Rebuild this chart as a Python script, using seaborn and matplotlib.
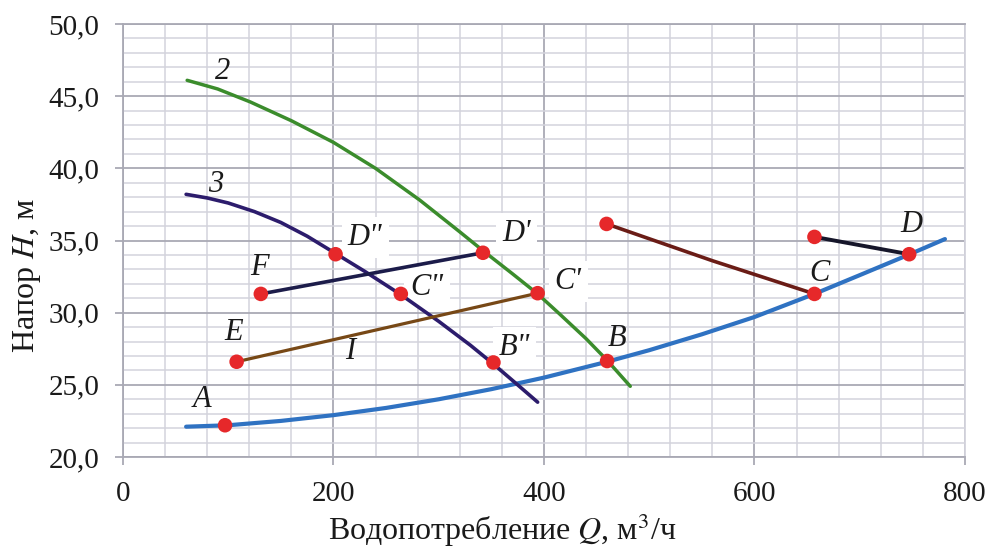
import matplotlib
matplotlib.use("Agg")
import matplotlib.pyplot as plt
from matplotlib.ticker import MultipleLocator, FuncFormatter
import seaborn as sns
import pandas as pd

# System characteristic (blue)
q_sys = [60, 100, 150, 200, 250, 300, 350, 400, 460, 500, 550, 600, 657, 700, 746, 781]
h_sys = [22.1, 22.2, 22.5, 22.9, 23.4, 24.0, 24.7, 25.5, 26.6, 27.4, 28.5, 29.7, 31.3, 32.6, 34.0, 35.1]

# Pump curve 2 (green)
q_p2 = [61, 90, 121, 160, 200, 240, 282, 320, 342, 370, 394, 415, 440, 460, 482]
h_p2 = [46.1, 45.5, 44.6, 43.3, 41.8, 40.0, 37.8, 35.6, 34.3, 32.7, 31.3, 29.9, 28.2, 26.7, 24.9]

# Pump curve 3 (purple)
q_p3 = [60, 80, 100, 125, 150, 175, 202, 230, 264, 300, 330, 351, 375, 394]
h_p3 = [38.2, 37.95, 37.6, 37.0, 36.25, 35.3, 34.1, 32.85, 31.25, 29.4, 27.75, 26.5, 25.0, 23.8]

# Segment I: E -> C'
q_e = [108, 394]
h_e = [26.6, 31.35]

# Segment F -> D'
q_f = [131, 342]
h_f = [31.3, 34.15]

# Upper-right segment to C
q_c = [459.5, 560, 657]
h_c = [36.15, 33.6, 31.3]

# Segment to D
q_d = [657, 747]
h_d = [35.25, 34.05]

# Marked points
pt_q = [97, 460, 657, 747, 108, 131, 342, 394, 202, 264, 352, 459.5, 657]
pt_h = [22.2, 26.65, 31.3, 34.05, 26.6, 31.3, 34.15, 31.35, 34.05, 31.3, 26.55, 36.15, 35.25]

# Point / curve labels
lab_text = ["A", "B", "C", "D", "E", "F", "I", "2", "3",
            'D"', "D'", 'C"', "C'", 'B"']
lab_q = [75, 469, 662, 749, 105, 130, 216, 95, 88, 230, 374, 289, 423, 372]
lab_h = [24.0, 28.2, 32.7, 36.1, 28.6, 33.1, 27.3, 46.7, 38.85, 35.2, 35.5, 31.75, 32.15, 27.6]
lab_boxed = [False] * 9 + [True] * 5

x_ticks_major = 200
x_ticks_minor = 40
y_ticks_major = 5
y_ticks_minor = 1

sns.set_theme(style="white")
plt.rcParams["font.family"] = ["Liberation Serif", "DejaVu Serif"]
plt.rcParams["mathtext.fontset"] = "stix"

fig = plt.figure(figsize=(9.9, 5.51), dpi=100)
ax = fig.add_axes([0.1242, 0.1706, 0.8505, 0.7858])

major_c = "#a9a9b4"
minor_c = "#d3d3dc"

def draw(q, h, color, lw):
    df = pd.DataFrame({"Q": q, "H": h})
    sns.lineplot(data=df, x="Q", y="H", color=color, linewidth=lw,
                 sort=False, estimator=None, ax=ax, zorder=3,
                 solid_capstyle="round", solid_joinstyle="round")

draw(q_sys, h_sys, "#2f72c2", 3.0)
draw(q_p2, h_p2, "#3b8c2c", 2.5)
draw(q_p3, h_p3, "#2c1c6c", 2.6)
draw(q_e, h_e, "#774816", 2.3)
draw(q_f, h_f, "#1c1c4a", 2.6)
draw(q_c, h_c, "#6a1c16", 2.6)
draw(q_d, h_d, "#16162a", 2.8)

pts = pd.DataFrame({"Q": pt_q, "H": pt_h})
sns.scatterplot(data=pts, x="Q", y="H", color="#e6282a", s=110,
                edgecolor="none", linewidth=0, ax=ax, zorder=5)

# Labels sit above the grid but below the curves, so their white
# backgrounds only hide grid lines
for t, q, h, boxed in zip(lab_text, lab_q, lab_h, lab_boxed):
    kw = {}
    if boxed:
        kw["bbox"] = dict(boxstyle="square,pad=0.2", fc="white", ec="none")
    ax.text(q, h, t, ha="center", va="center", fontsize=22,
            fontstyle="italic", color="#1a1a1a", zorder=2, **kw)

ax.set_xlim(0, 800)
ax.set_ylim(20, 50)
ax.xaxis.set_major_locator(MultipleLocator(x_ticks_major))
ax.xaxis.set_minor_locator(MultipleLocator(x_ticks_minor))
ax.yaxis.set_major_locator(MultipleLocator(y_ticks_major))
ax.yaxis.set_minor_locator(MultipleLocator(y_ticks_minor))
ax.yaxis.set_major_formatter(FuncFormatter(lambda v, p: f"{v:.1f}".replace(".", ",")))
ax.xaxis.set_major_formatter(FuncFormatter(lambda v, p: f"{v:.0f}"))

ax.grid(which="minor", color=minor_c, linewidth=1.1)
ax.grid(which="major", color=major_c, linewidth=1.3)
ax.set_axisbelow(True)

for side in ["left", "bottom", "top", "right"]:
    ax.spines[side].set_visible(True)
    ax.spines[side].set_color(major_c)
    ax.spines[side].set_linewidth(1.3)
ax.spines["right"].set_color(minor_c)

ax.tick_params(which="major", direction="out", length=6, width=1.3,
               color=major_c, labelsize=21, labelcolor="#1a1a1a", pad=11)
ax.tick_params(which="minor", length=0)
ax.tick_params(axis="x", which="major", bottom=True)
ax.tick_params(axis="y", which="major", left=True)

ax.set_xlabel("Водопотребление $\\mathit{Q}$, м$^3$/ч", fontsize=23, color="#1a1a1a")
ax.xaxis.set_label_coords(0.45, -0.125)
ax.xaxis.label.set_va("top")
ax.set_ylabel("Напор $\\mathit{H}$, м", fontsize=23, color="#1a1a1a")
ax.yaxis.set_label_coords(-0.095, 0.42)

fig.savefig("out.png", dpi=100)
